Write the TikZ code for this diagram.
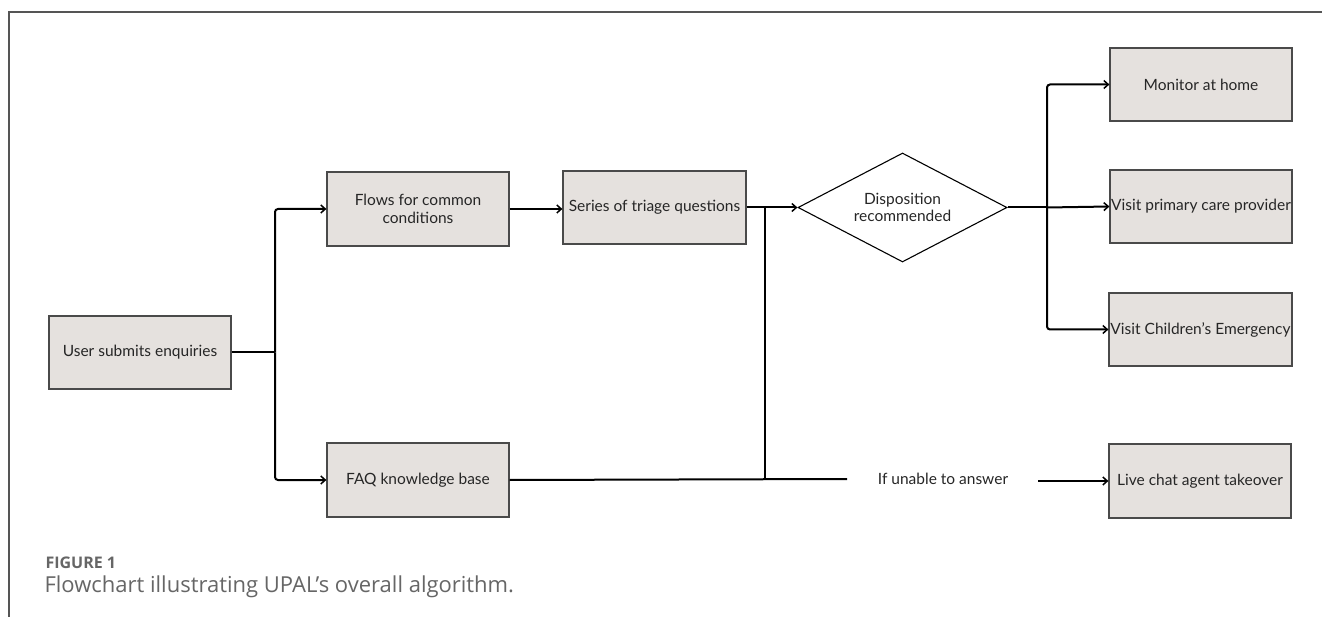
\documentclass[tikz,border=0pt]{standalone}
\usepackage{fontspec}
\setmainfont{Lato}
\newfontfamily\capfont{Open Sans}
\usetikzlibrary{arrows.meta,shapes.geometric}
\definecolor{boxfill}{HTML}{E5E1DE}
\definecolor{boxline}{HTML}{4A4A4A}
\definecolor{txt}{HTML}{262626}
\definecolor{framec}{HTML}{555555}
\definecolor{capc}{HTML}{666666}
\tikzset{
  x=1pt,y=-1pt,
  box/.style={draw=boxline,fill=boxfill,line width=1.2pt,minimum width=182pt,minimum height=73pt,inner sep=2pt,align=center,text=txt,font=\fontsize{15.5}{17.5}\selectfont},
  dia/.style={draw=black,line width=1.1pt,diamond,shape aspect=1.9,minimum width=209pt,minimum height=109pt,inner sep=0pt,align=center,text=txt,font=\fontsize{15.5}{17.5}\selectfont},
  conn/.style={draw=black,line width=2pt},
  arr/.style={conn,-{Straight Barb[length=4.5pt,width=8pt,line width=1.5pt]}},
  lbl/.style={text=txt,font=\fontsize{15.5}{17.5}\selectfont},
}
\begin{document}
\begin{tikzpicture}
\useasboundingbox (0,0) rectangle (1322,617);
\fill[white] (0,0) rectangle (1322,617);
% frame
\draw[framec,line width=1.4pt] (9,617) -- (9,12) -- (1322,12);
% nodes
\node[box] (user) at (140,352.5) {User submits enquiries};
\node[box,minimum height=74pt] (flows) at (418,209) {Flows for common\\conditions};
\node[box,minimum width=183pt] (series) at (654.5,207.5) {Series of triage questions};
\node[box,minimum height=74pt] (faq) at (418,480) {FAQ knowledge base};
\node[dia] (dec) at (902.5,207.5) {Disposition\\recommended};
\node[box] (monitor) at (1201,84.5) {Monitor at home};
\node[box,inner sep=0pt] (primary) at (1201,206.5) {Visit primary care provider};
\node[box,minimum width=183pt,inner sep=0pt] (children) at (1200.5,329.5) {Visit Children’s Emergency};
\node[box,minimum height=74pt] (live) at (1200,481) {Live chat agent takeover};
\node[lbl] (unable) at (943,479) {If unable to answer};
% coordinates
\coordinate (bj) at (275,352.5);
\coordinate (j1) at (765,207.5);
\coordinate (j2) at (765,479);
\coordinate (fe) at (847,479);
\coordinate (ls) at (1038,481);
\coordinate (dj) at (1047,207.5);
% connectors
\draw[conn] (user.east) -- (bj);
\draw[arr,rounded corners=3pt] (bj) |- (flows.west);
\draw[arr,rounded corners=3pt] (bj) |- (faq.west);
\draw[arr] (flows.east) -- (series.west |- flows.east);
\draw[arr] (series.east) -- (dec.west);
\draw[conn] (j1) -- (j2);
\draw[conn] (faq.east) -- (fe);
\draw[arr] (ls) -- (live.west |- ls);
\draw[conn] (dec.east) -- (dj);
\draw[arr,rounded corners=3pt] (dj) |- (monitor.west);
\draw[arr] (dj) -- (primary.west);
\draw[arr,rounded corners=3pt] (dj) |- (children.west);
% caption
\node[anchor=west,text=capc,font=\capfont\bfseries\fontsize{16}{19}\selectfont] (fig) at (42,563) {FIGURE 1};
\node[anchor=west,text=capc,font=\capfont\fontsize{22}{26}\selectfont] (cap) at (41,587) {Flowchart illustrating UPAL’s overall algorithm.};
\end{tikzpicture}
\end{document}
